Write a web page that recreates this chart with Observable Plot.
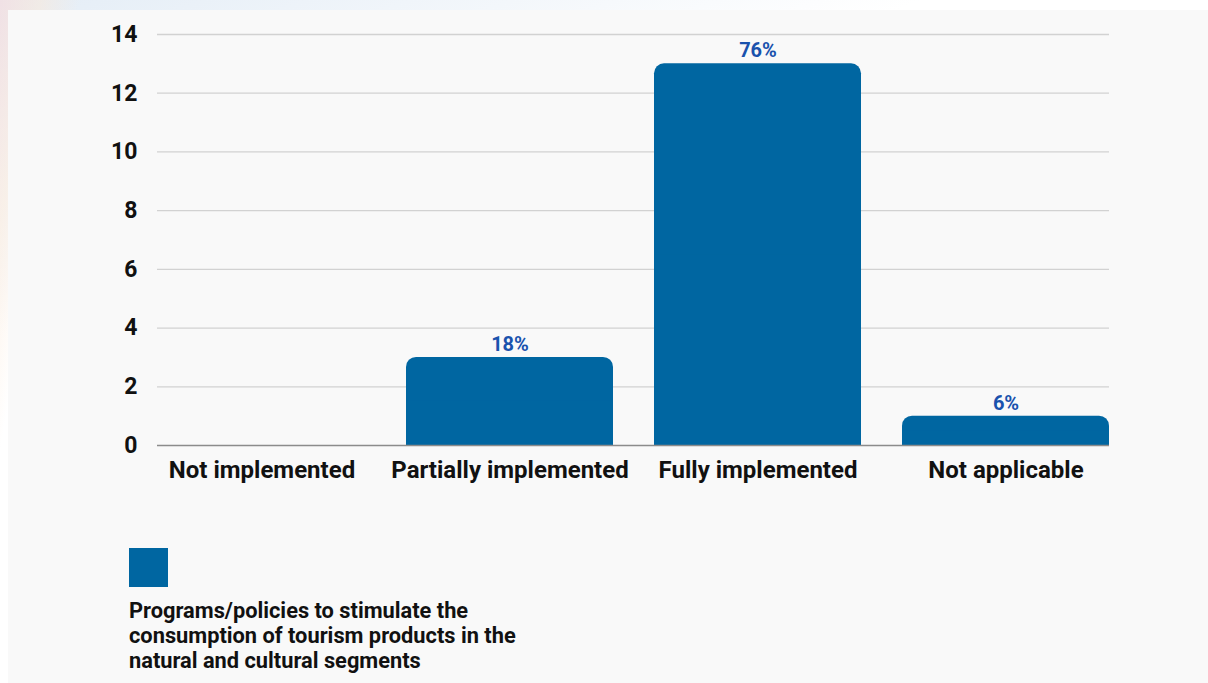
<!DOCTYPE html>
<html>
<head>
<meta charset="utf-8">
<script src="https://cdn.jsdelivr.net/npm/d3@7"></script>
<script src="https://cdn.jsdelivr.net/npm/@observablehq/plot@0.6"></script>
<style>
  html, body { margin: 0; padding: 0; }
  body {
    width: 1208px; height: 683px; overflow: hidden; position: relative;
    font-family: Roboto, "Noto Sans", sans-serif;
    background:
      linear-gradient(100deg, rgba(250,215,215,0.55) 0%, rgba(252,232,214,0.5) 3%, rgba(255,255,255,0) 6%),
      linear-gradient(160deg, rgba(210,225,240,0.6) 0%, rgba(255,255,255,0) 30%),
      #ffffff;
  }
  #panel {
    position: absolute; left: 8px; top: 10px; width: 1200px; height: 673px;
    background: #f9f9f9;
  }
  #chart { position: absolute; left: 0; top: 0; }
  #legend-swatch {
    position: absolute; left: 121px; top: 538px; width: 39px; height: 39px;
    background: #0066a1;
  }
  #legend-text {
    position: absolute; left: 121px; top: 588px; width: 410px;
    font-size: 21.8px; font-weight: 700; line-height: 25px; color: #111;
  }
</style>
</head>
<body>
<div id="panel">
  <div id="chart"></div>
  <div id="legend-swatch"></div>
  <div id="legend-text"></div>
</div>
<script>
const categories = ["Not implemented", "Partially implemented", "Fully implemented", "Not applicable"];
const counts = [0, 3, 13, 1];
const percentLabels = ["", "18%", "76%", "6%"];
const yTicks = [0, 2, 4, 6, 8, 10, 12, 14];
const seriesName = "Programs/policies to stimulate the consumption of tourism products in the natural and cultural segments";

const data = categories.map((c, i) => ({category: c, value: counts[i], label: percentLabels[i]}));
const barColor = "#0066a1";

const chart = Plot.plot({
  width: 1200,
  height: 500,
  marginLeft: 149,
  marginRight: 99,
  marginTop: 24,
  marginBottom: 65,
  style: {fontFamily: "Roboto, 'Noto Sans', sans-serif", background: "transparent", color: "#111"},
  x: {domain: categories, paddingInner: 0.167, paddingOuter: 0, label: null},
  y: {domain: [0, 14], label: null},
  marks: [
    Plot.ruleY(yTicks.filter(t => t > 0), {stroke: "#d2d2d2", strokeWidth: 1.3}),
    Plot.barY(data.filter(d => d.value > 0), {x: "category", y: "value", fill: barColor, rx: 10}),
    Plot.barY(data.filter(d => d.value > 0), {x: "category", y1: 0, y2: d => d.value / 2, fill: barColor}),
    Plot.ruleY([0], {stroke: "#8c8c8c", strokeWidth: 1.3}),
    Plot.text(data.filter(d => d.label), {x: "category", y: "value", text: "label", dy: -13, fill: "#1a52ad", fontSize: 20, fontWeight: "bold"}),
    Plot.axisY({ticks: yTicks, tickSize: 0, tickPadding: 20, fontSize: 23, fontWeight: "bold", label: null}),
    Plot.axisX({tickSize: 0, tickPadding: 15, fontSize: 24, fontWeight: "bold", label: null})
  ]
});
document.getElementById("chart").appendChild(chart);
document.getElementById("legend-text").textContent = seriesName;
</script>
</body>
</html>
